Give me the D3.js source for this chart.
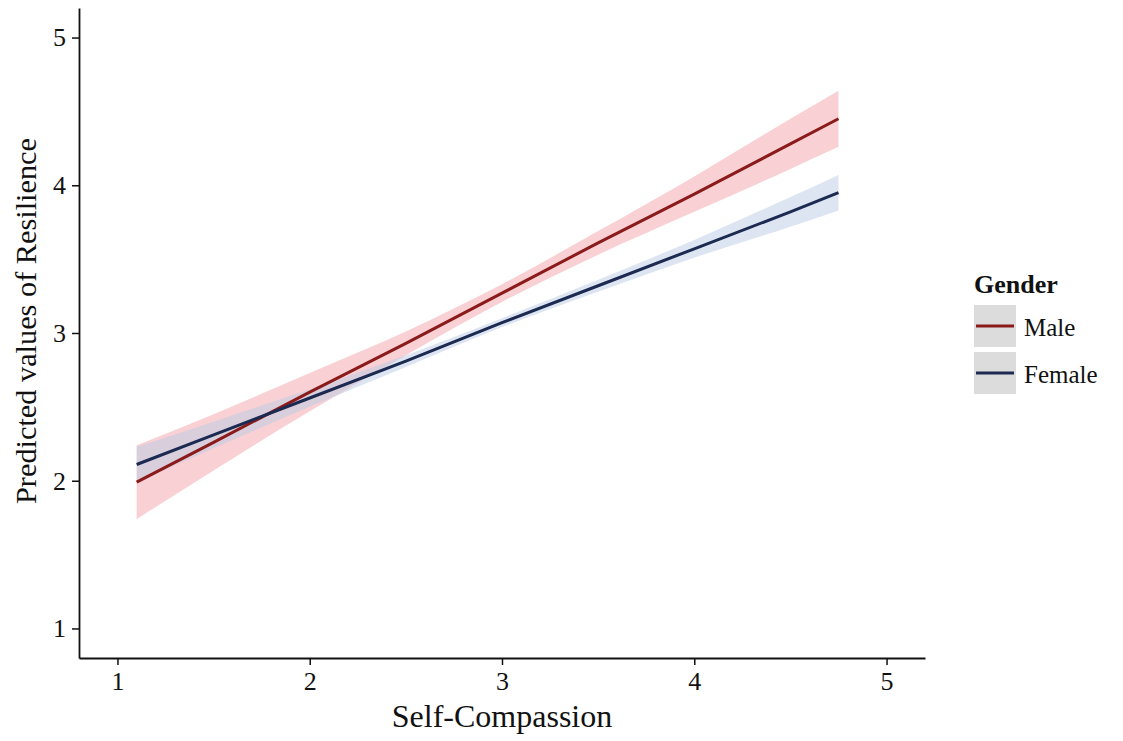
<!DOCTYPE html>
<html>
<head>
<meta charset="utf-8">
<script src="https://cdn.jsdelivr.net/npm/d3@7"></script>
<style>
  body { margin: 0; background: #fff; }
  svg { display: block; font-family: "Liberation Serif", "Times New Roman", serif; }
</style>
</head>
<body>
<div id="vis"></div>
<script>
// Predicted values
var xVals = [1.1, 1.5, 2, 2.5, 3, 3.5, 4, 4.5, 4.75];
var maleFit = [1.99, 2.26, 2.60, 2.93, 3.27, 3.61, 3.94, 4.28, 4.45];
var maleHalf = [0.25, 0.19, 0.13, 0.08, 0.06, 0.08, 0.12, 0.17, 0.19];
var femaleFit = [2.11, 2.31, 2.56, 2.81, 3.07, 3.32, 3.57, 3.82, 3.95];
var femaleHalf = [0.12, 0.09, 0.06, 0.04, 0.03, 0.04, 0.06, 0.10, 0.12];
var groups = ['Male', 'Female'];
var xTicks = [1, 2, 3, 4, 5];
var yTicks = [1, 2, 3, 4, 5];

var width = 1123, height = 741;
var margin = { left: 79, right: 198, top: 8, bottom: 83 };

var colors = {
  Male: { line: '#8b1a1a', fill: '#f4a3aa', op: 0.5 },
  Female: { line: '#1c2a52', fill: '#b9cbe3', op: 0.5 }
};

var svg = d3.select('#vis').append('svg')
  .attr('width', width)
  .attr('height', height);

var x = d3.scaleLinear().domain([0.8, 5.2]).range([margin.left, width - margin.right]);
var y = d3.scaleLinear().domain([0.8, 5.2]).range([height - margin.bottom, margin.top]);

function makeRows(fit, half) {
  return xVals.map(function(v, i) {
    return { x: v, fit: fit[i], lo: fit[i] - half[i], hi: fit[i] + half[i] };
  });
}

var series = [
  { name: 'Male', rows: makeRows(maleFit, maleHalf) },
  { name: 'Female', rows: makeRows(femaleFit, femaleHalf) }
];

var area = d3.area()
  .x(function(d) { return x(d.x); })
  .y0(function(d) { return y(d.lo); })
  .y1(function(d) { return y(d.hi); })
  .curve(d3.curveMonotoneX);

var line = d3.line()
  .x(function(d) { return x(d.x); })
  .y(function(d) { return y(d.fit); });

// ribbons first, then lines on top
svg.selectAll('.ribbon')
  .data(series)
  .enter().append('path')
  .attr('class', 'ribbon')
  .attr('d', function(d) { return area(d.rows); })
  .attr('fill', function(d) { return colors[d.name].fill; })
  .attr('fill-opacity', function(d) { return colors[d.name].op; });

svg.selectAll('.fit')
  .data(series)
  .enter().append('path')
  .attr('class', 'fit')
  .attr('d', function(d) { return line(d.rows); })
  .attr('fill', 'none')
  .attr('stroke', function(d) { return colors[d.name].line; })
  .attr('stroke-width', 3);

// axes
var xAxis = svg.append('g')
  .attr('transform', 'translate(0,' + (height - margin.bottom) + ')')
  .call(d3.axisBottom(x).tickValues(xTicks).tickFormat(d3.format('d')).tickSize(7).tickSizeOuter(0));

var yAxis = svg.append('g')
  .attr('transform', 'translate(' + margin.left + ',0)')
  .call(d3.axisLeft(y).tickValues(yTicks).tickFormat(d3.format('d')).tickSize(7).tickSizeOuter(0));

[xAxis, yAxis].forEach(function(g) {
  g.attr('font-size', null);
  g.select('.domain').attr('stroke', '#111').attr('stroke-width', 1.8);
  g.selectAll('.tick line').attr('stroke', '#111').attr('stroke-width', 1.5);
  g.selectAll('.tick text')
    .attr('fill', '#111')
    .attr('font-family', '"Liberation Serif", "Times New Roman", serif')
    .attr('font-size', 26);
});
xAxis.selectAll('.tick text').attr('y', 10).attr('dy', '0.85em');
yAxis.selectAll('.tick text').attr('x', -13);

// axis titles
svg.append('text')
  .attr('x', 502)
  .attr('y', 727)
  .attr('text-anchor', 'middle')
  .attr('fill', '#111')
  .style('font-size', '32px')
  .text('Self-Compassion');

svg.append('text')
  .attr('transform', 'translate(36,321) rotate(-90)')
  .attr('text-anchor', 'middle')
  .attr('fill', '#111')
  .style('font-size', '30px')
  .attr('textLength', 366)
  .attr('lengthAdjust', 'spacingAndGlyphs')
  .text('Predicted values of Resilience');

// legend
var legend = svg.append('g').attr('transform', 'translate(974,0)');
legend.append('text')
  .attr('x', 0)
  .attr('y', 293)
  .attr('fill', '#111')
  .style('font-size', '26px')
  .style('font-weight', 'bold')
  .text('Gender');

var keys = legend.selectAll('.key')
  .data(groups)
  .enter().append('g')
  .attr('class', 'key')
  .attr('transform', function(d, i) { return 'translate(0,' + (305 + i * 47) + ')'; });

keys.append('rect')
  .attr('width', 42)
  .attr('height', 42)
  .attr('fill', '#dcdcdc');

keys.append('line')
  .attr('x1', 2).attr('x2', 40)
  .attr('y1', 21).attr('y2', 21)
  .attr('stroke', function(d) { return colors[d].line; })
  .attr('stroke-width', 3);

keys.append('text')
  .attr('x', 50)
  .attr('y', 31)
  .attr('fill', '#111')
  .style('font-size', '25px')
  .text(function(d) { return d; });
</script>
</body>
</html>
